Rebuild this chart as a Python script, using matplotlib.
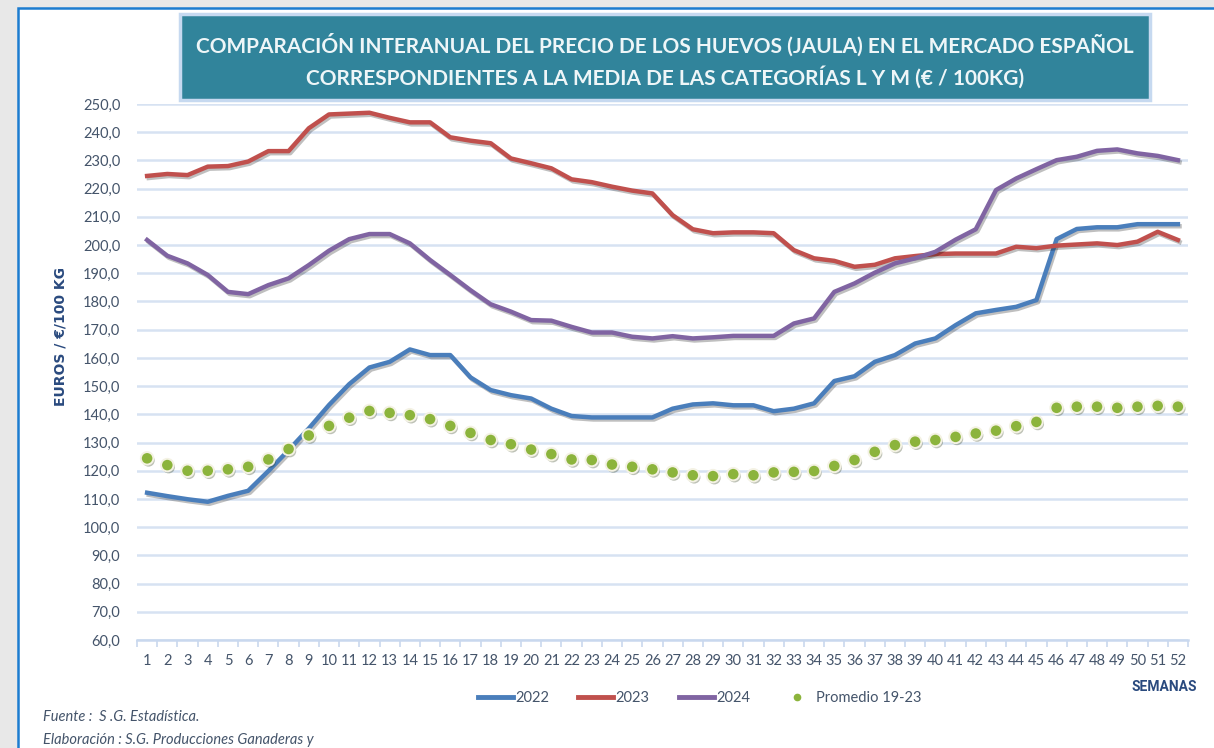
import matplotlib
matplotlib.use("Agg")
import matplotlib.pyplot as plt
import matplotlib.patheffects as pe
from matplotlib.patches import Rectangle
import numpy as np

weeks = list(range(1, 53))

price_2022 = [112.2, 111.0, 109.9, 109.0, 111.1, 112.9, 119.9, 127.3, 135.0, 143.3,
              150.7, 156.6, 158.6, 163.0, 161.0, 161.0, 153.1, 148.6, 146.8, 145.6,
              142.0, 139.4, 138.9, 138.9, 138.9, 138.9, 142.0, 143.5, 143.9, 143.2,
              143.2, 141.1, 142.0, 143.9, 151.8, 153.5, 158.6, 161.0, 165.1, 166.9,
              171.6, 175.8, 177.0, 178.1, 180.5, 202.1, 205.7, 206.3, 206.3, 207.4,
              207.4, 207.4]

price_2023 = [224.5, 225.2, 224.8, 227.8, 228.0, 229.6, 233.3, 233.3, 241.4, 246.3,
              246.6, 246.9, 245.1, 243.5, 243.5, 238.2, 237.0, 236.1, 230.7, 229.0,
              227.2, 223.3, 222.3, 220.7, 219.3, 218.3, 210.6, 205.6, 204.2, 204.5,
              204.5, 204.2, 198.2, 195.3, 194.4, 192.3, 193.0, 195.3, 196.1, 196.8,
              197.0, 197.0, 197.0, 199.4, 198.9, 199.8, 200.2, 200.6, 200.0, 201.2,
              204.7, 201.8]

price_2024 = [201.8, 196.2, 193.5, 189.4, 183.4, 182.6, 185.8, 188.2, 192.9, 198.0,
              202.1, 203.9, 203.9, 200.6, 194.7, 189.4, 184.0, 179.0, 176.4, 173.4,
              173.2, 171.0, 169.0, 169.0, 167.5, 166.9, 167.7, 166.9, 167.3, 167.8,
              167.8, 167.8, 172.2, 174.0, 183.4, 186.4, 190.2, 193.5, 195.3, 197.6,
              201.9, 205.6, 219.5, 223.6, 226.9, 230.1, 231.3, 233.4, 233.9, 232.5,
              231.6, 230.1]

promedio = [124.4, 122.0, 120.0, 120.0, 120.5, 121.4, 124.0, 127.7, 132.5, 135.9,
            138.8, 141.2, 140.5, 139.7, 138.3, 135.9, 133.4, 130.9, 129.4, 127.5,
            125.9, 124.0, 123.8, 122.2, 121.4, 120.5, 119.4, 118.4, 118.1, 118.8,
            118.4, 119.4, 119.6, 119.9, 121.7, 123.8, 126.7, 129.1, 130.3, 130.9,
            132.0, 133.2, 134.2, 135.8, 137.3, 142.3, 142.7, 142.7, 142.3, 142.7,
            143.0, 142.7]

title = ("COMPARACIÓN INTERANUAL DEL PRECIO DE LOS HUEVOS (JAULA) EN EL MERCADO ESPAÑOL\n"
         "CORRESPONDIENTES A LA MEDIA DE LAS CATEGORÍAS L Y M (€ / 100KG)")

W, H = 1214, 748
fig = plt.figure(figsize=(W / 100, H / 100), dpi=100, facecolor="#e8e8e8")

# white panel with blue border
fig.patches.append(Rectangle((18 / W, -0.05), 1.1, (H - 8) / H + 0.05,
                             transform=fig.transFigure, facecolor="white",
                             edgecolor="#1c7cd0", linewidth=1.8, zorder=0))

ax = fig.add_axes([137 / W, (H - 640) / H, 1051 / W, 536 / H], zorder=2)
ax.patch.set_alpha(0)
ax.set_xlim(0.5, 52.5)
ax.set_ylim(60, 250)

tick_col = "#44546a"
font = "Lato"

ax.set_yticks(np.arange(60, 251, 10))
ax.set_yticklabels([f"{v:.1f}".replace(".", ",") for v in np.arange(60, 251, 10)],
                   fontsize=10.5, color=tick_col, family=font)
ax.set_xticks(weeks)
ax.set_xticklabels([str(w) for w in weeks], fontsize=10.5, color=tick_col, family=font)
ax.set_xticks(np.arange(0.5, 53, 1), minor=True)
ax.tick_params(axis="y", length=0, pad=12)
ax.tick_params(axis="x", which="major", length=0, pad=10)
ax.tick_params(axis="x", which="minor", length=5, color="#c9d8ee", width=1.2)
ax.grid(axis="y", color="#d7e2f2", linewidth=1.8)
ax.set_axisbelow(True)
for s in ["top", "right", "left"]:
    ax.spines[s].set_visible(False)
ax.spines["bottom"].set_color("#c9d8ee")
ax.spines["bottom"].set_linewidth(1.8)

shadow = [pe.SimpleLineShadow(offset=(1.2, -1.5), alpha=0.25, shadow_color="black"), pe.Normal()]

ax.plot(weeks, price_2022, color="#4a7ebb", lw=3.2, label="2022", path_effects=shadow, zorder=3)
ax.plot(weeks, price_2023, color="#c0504d", lw=3.2, label="2023", path_effects=shadow, zorder=3)
ax.plot(weeks, price_2024, color="#8064a2", lw=3.2, label="2024", path_effects=shadow, zorder=3)
ax.plot(weeks, promedio, linestyle="none", marker="o", markersize=9,
        markerfacecolor="#8cb43c", markeredgecolor="#f4f2e4", markeredgewidth=1.4,
        label="Promedio 19-23", zorder=4,
        path_effects=[pe.SimplePatchShadow(offset=(1, -1.5), alpha=0.3), pe.Normal()])

ax.set_ylabel("EUROS / €/100 KG", fontsize=10, fontweight="bold", color="#2a4a7e",
              family="DejaVu Sans")
ax.yaxis.set_label_coords(-0.066, (640 - 336) / 536)

# legend
handles = [plt.Line2D([], [], color="#4a7ebb", lw=3.5),
           plt.Line2D([], [], color="#c0504d", lw=3.5),
           plt.Line2D([], [], color="#8064a2", lw=3.5),
           plt.Line2D([], [], linestyle="none", marker="o", markersize=4.5,
                      markerfacecolor="#8cb43c", markeredgecolor="#8cb43c")]
leg = fig.legend(handles, ["2022", "2023", "2024", "Promedio 19-23"], loc="center",
                 bbox_to_anchor=(700 / W, (H - 698) / H), ncol=4, frameon=False,
                 handlelength=2.4, handletextpad=0.15, columnspacing=2.0,
                 prop={"family": font, "size": 10.5})
for t in leg.get_texts():
    t.set_color(tick_col)

fig.text(1197 / W, (H - 687) / H, "SEMANAS", ha="right", va="center", fontsize=10,
         fontweight="bold", color="#2a4a7e", family="Roboto")

# title box
fig.patches.append(Rectangle((180 / W, (H - 100) / H), 970 / W, 86 / H,
                             transform=fig.transFigure, facecolor="#31849b",
                             edgecolor="#c6d9f0", linewidth=2.5, zorder=1))
fig.text(665 / W, (H - 61) / H, title, ha="center", va="center", fontsize=15,
         fontweight="bold", color="#eef6f8", family="Lato",
         linespacing=1.5, zorder=2)

fig.text(43 / W, (H - 717) / H, "Fuente :  S .G. Estadística.", ha="left", va="center",
         fontsize=10.5, style="italic", color=tick_col, family=font)
fig.text(43 / W, (H - 740) / H, "Elaboración : S.G. Producciones Ganaderas y", ha="left",
         va="center", fontsize=10.5, style="italic", color=tick_col, family=font)

fig.savefig("out.png", dpi=100, facecolor=fig.get_facecolor())
